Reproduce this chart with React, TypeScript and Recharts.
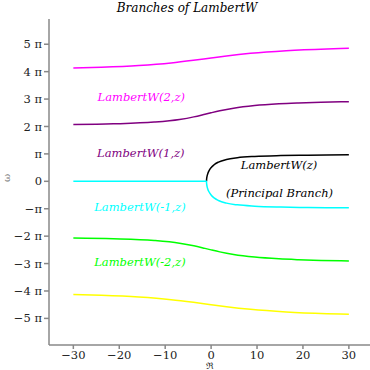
import { LineChart, Line, XAxis, YAxis, ReferenceDot } from "recharts";

const branch2X = [-30, -23.91, -15.75, -8.71, -3.85, 0, 3.35, 8.58, 16.34, 25.21, 30];
const branch2Y = [4.13, 4.159, 4.223, 4.318, 4.414, 4.5, 4.573, 4.668, 4.764, 4.828, 4.85];

const branch1X = [-30, -21.28, -12.41, -6.88, -3.76, -1.33, 0, 1.89, 4.9, 9.48, 14.77, 19.0, 23.94, 30];
const branch1Y = [2.068, 2.095, 2.159, 2.255, 2.35, 2.446, 2.5, 2.573, 2.668, 2.764, 2.828, 2.859, 2.885, 2.906];

const principalX = [-1, -0.9925, -0.97, -0.877, -0.714, -0.467, 0, 0.649, 1.601, 3.35, 5.71, 9.5, 15.21, 21.05, 30];
const principalY = [0, 0.048, 0.0955, 0.191, 0.2865, 0.382, 0.5, 0.605, 0.7, 0.796, 0.859, 0.907, 0.939, 0.955, 0.968];

const branchM1X = [-30, -1, -0.9925, -0.97, -0.877, -0.714, -0.467, 0, 0.649, 1.601, 3.35, 5.71, 9.5, 15.21, 21.05, 30];
const branchM1Y = [0, 0, -0.048, -0.0955, -0.191, -0.2865, -0.382, -0.5, -0.605, -0.7, -0.796, -0.859, -0.907, -0.939, -0.955, -0.968];

const branchM2X = [-30, -21.28, -12.41, -6.88, -3.76, -1.33, 0, 1.89, 4.9, 9.48, 14.77, 19.0, 23.94, 30];
const branchM2Y = [-2.068, -2.095, -2.159, -2.255, -2.35, -2.446, -2.5, -2.573, -2.668, -2.764, -2.828, -2.859, -2.885, -2.906];

const branchM3X = [-30, -23.91, -15.75, -8.71, -3.85, 0, 3.35, 8.58, 16.34, 25.21, 30];
const branchM3Y = [-4.13, -4.159, -4.223, -4.318, -4.414, -4.5, -4.573, -4.668, -4.764, -4.828, -4.85];

const xTicks = [-30, -20, -10, 0, 10, 20, 30];
const yTicks = [-5, -4, -3, -2, -1, 0, 1, 2, 3, 4, 5];

const labels = [
  { text: "LambertW(2,z)", x: -15.2, y: 3.08, color: "#ff00ff" },
  { text: "LambertW(1,z)", x: -15.3, y: 1.03, color: "#800080" },
  { text: "LambertW(-1,z)", x: -15.5, y: -0.93, color: "#00ffff" },
  { text: "LambertW(-2,z)", x: -15.5, y: -2.95, color: "#00ff00" },
  { text: "LambertW(z)", x: 14.8, y: 0.6, color: "#000000" },
  { text: "(Principal Branch)", x: 14.9, y: -0.43, color: "#000000" },
];

const toPoints = (xs: number[], ys: number[]) => xs.map((x, i) => ({ x, y: ys[i] }));

const series = [
  { name: "k2", data: toPoints(branch2X, branch2Y), color: "#ff00ff" },
  { name: "k1", data: toPoints(branch1X, branch1Y), color: "#800080" },
  { name: "k0", data: toPoints(principalX, principalY), color: "#000000" },
  { name: "km1", data: toPoints(branchM1X, branchM1Y), color: "#00ffff" },
  { name: "km2", data: toPoints(branchM2X, branchM2Y), color: "#00ff00" },
  { name: "km3", data: toPoints(branchM3X, branchM3Y), color: "#ffff00" },
];

const formatPi = (v: number) => {
  if (v === 0) return "0";
  if (v === 1) return "π";
  if (v === -1) return "−π";
  return v < 0 ? `−${-v} π` : `${v} π`;
};

const axisColor = "#888888";
const font = "'DejaVu Serif', serif";

export default function App() {
  return (
    <div style={{ position: "absolute", left: 0, top: 0, width: 370, height: 370, background: "#fff" }}>
      <div
        style={{
          position: "absolute",
          left: 0,
          top: 0,
          width: 374,
          textAlign: "center",
          fontFamily: font,
          fontStyle: "italic",
          fontSize: 12,
          lineHeight: "16px",
          color: "#000",
        }}
      >
        Branches of LambertW
      </div>
      <LineChart width={370} height={370} margin={{ top: 19, right: 0, bottom: 0, left: 0 }}>
        <XAxis
          type="number"
          dataKey="x"
          domain={[-35.3, 34.6]}
          ticks={xTicks}
          allowDataOverflow
          height={25}
          stroke={axisColor}
          strokeWidth={1.5}
          tickSize={4}
          tick={{ fill: "#222", fontSize: 11.5, fontFamily: font }}
          tickFormatter={(v) => (v < 0 ? `−${-v}` : `${v}`)}
          label={{ value: "ℜ", position: "insideBottom", offset: 1, fontSize: 9, fill: "#222", fontFamily: font }}
        />
        <YAxis
          type="number"
          dataKey="y"
          domain={[-5.97, 5.92]}
          ticks={yTicks}
          allowDataOverflow
          width={49}
          stroke={axisColor}
          strokeWidth={1.5}
          tickSize={5}
          tick={{ fill: "#222", fontSize: 11.5, fontFamily: font }}
          tickFormatter={formatPi}
          label={{ value: "ω", angle: -90, position: "insideLeft", offset: 6, fontSize: 10, fill: "#777", fontFamily: font }}
        />
        {series.map((s) => (
          <Line
            key={s.name}
            data={s.data}
            dataKey="y"
            type="monotone"
            stroke={s.color}
            strokeWidth={1.5}
            dot={false}
            activeDot={false}
            isAnimationActive={false}
          />
        ))}
        {labels.map((l) => (
          <ReferenceDot
            key={l.text}
            x={l.x}
            y={l.y}
            r={0}
            fill="none"
            stroke="none"
            label={{
              value: l.text,
              position: "center",
              fill: l.color,
              fontSize: 11.5,
              fontStyle: "italic",
              fontFamily: font,
            }}
          />
        ))}
      </LineChart>
    </div>
  );
}
